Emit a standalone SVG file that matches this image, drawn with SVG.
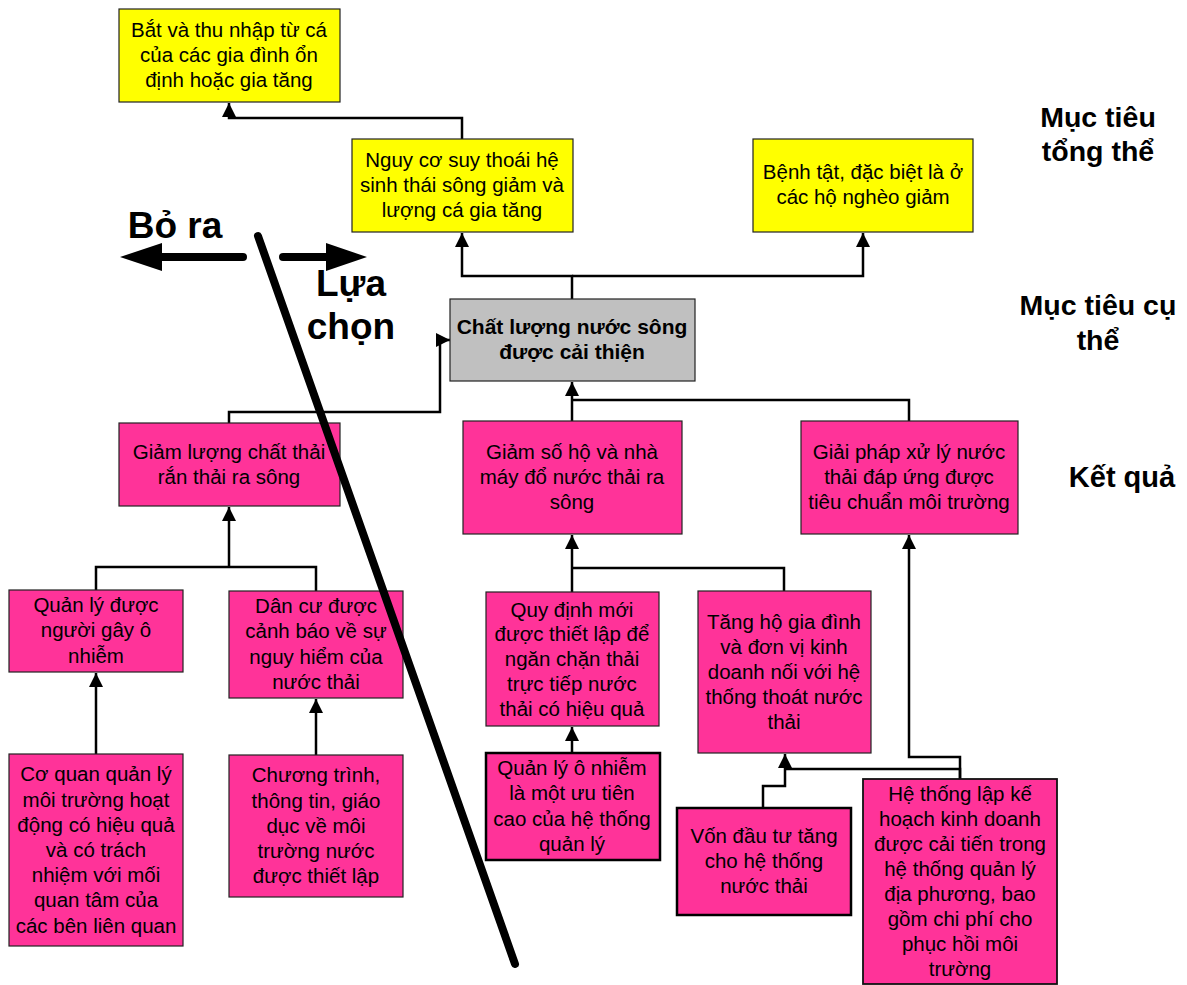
<svg xmlns="http://www.w3.org/2000/svg" width="1187" height="985" viewBox="0 0 1187 985">
  <defs>
    <marker id="head" markerUnits="userSpaceOnUse" markerWidth="14" markerHeight="14" refX="14" refY="7" orient="auto">
      <path d="M0,0 L14,7 L0,14 z" fill="#000"/>
    </marker>
    <style>
      .box { stroke: #222; stroke-width: 1.2; }
      .thick { stroke: #000; stroke-width: 2.5; }
      .goal { fill: #FFFF00; }
      .purpose { fill: #C0C0C0; }
      .out { fill: #FF3399; }
      .t { font-family: "Liberation Sans", Arial, sans-serif; font-size: 20.5px; fill: #000; text-anchor: middle; }
      .tb { font-family: "Liberation Sans", Arial, sans-serif; font-size: 21px; font-weight: bold; fill: #000; text-anchor: middle; }
      .lvl { font-family: "Liberation Sans", Arial, sans-serif; font-size: 28.5px; font-weight: bold; fill: #000; text-anchor: middle; }
      .big { font-family: "Liberation Sans", Arial, sans-serif; font-size: 37px; font-weight: bold; fill: #000; text-anchor: middle; }
      .conn { fill: none; stroke: #000; stroke-width: 2.5; }
      .arr { marker-end: url(#head); }
    </style>
  </defs>

  <rect width="1187" height="985" fill="#fff"/>

  <!-- level labels -->
  <g id="levels">
    <text class="lvl" x="1098" y="127">Mục tiêu</text>
    <text class="lvl" x="1098" y="161">tổng thể</text>
    <text class="lvl" x="1098" y="315">Mục tiêu cụ</text>
    <text class="lvl" x="1098" y="350">thể</text>
    <text class="lvl" x="1122" y="487" style="font-size:29px">Kết quả</text>
  </g>

  <!-- connectors -->
  <g id="connectors">
    <path class="conn arr" d="M462,139 V118 H229 V103"/>
    <path class="conn arr" d="M572,299 V276 H462 V233"/>
    <path class="conn arr" d="M572,276 H863 V233"/>
    <path class="conn arr" d="M572,421 V382"/>
    <path class="conn" d="M572,400 H909 V421"/>
    <path class="conn arr" d="M229,423 V412 H440 V340 H450"/>
    <path class="conn" d="M96,590 V567 H316 V591"/>
    <path class="conn arr" d="M229,567 V507"/>
    <path class="conn arr" d="M96,754 V673"/>
    <path class="conn arr" d="M316,755 V699"/>
    <path class="conn arr" d="M572,592 V535"/>
    <path class="conn" d="M572,568 H784 V591"/>
    <path class="conn arr" d="M572,753 V727"/>
    <path class="conn arr" d="M763,807 V786 H785 V754"/>
    <path class="conn" d="M785,769 H960 V779"/>
    <path class="conn arr" d="M960,779 V757 H909 V535"/>
  </g>

  <g id="goal-income">
    <rect class="box goal" x="119" y="9" width="221" height="93"/>
    <text class="t" x="229" y="37">Bắt và thu nhập từ cá</text>
    <text class="t" x="229" y="62">của các gia đình ổn</text>
    <text class="t" x="229" y="87">định hoặc gia tăng</text>
  </g>

  <g id="goal-ecosystem">
    <rect class="box goal" x="352" y="139" width="221" height="93"/>
    <text class="t" x="462" y="167">Nguy cơ suy thoái hệ</text>
    <text class="t" x="462" y="192">sinh thái sông giảm và</text>
    <text class="t" x="462" y="217">lượng cá gia tăng</text>
  </g>

  <g id="goal-health">
    <rect class="box goal" x="753" y="139" width="220" height="93"/>
    <text class="t" x="863" y="179">Bệnh tật, đặc biệt là ở</text>
    <text class="t" x="863" y="204">các hộ nghèo giảm</text>
  </g>

  <g id="purpose">
    <rect class="box purpose" x="450" y="299" width="245" height="82"/>
    <text class="tb" x="572" y="334">Chất lượng nước sông</text>
    <text class="tb" x="572" y="359">được cải thiện</text>
  </g>

  <g id="out-solid-waste">
    <rect class="box out" x="119" y="423" width="221" height="83"/>
    <text class="t" x="229" y="459">Giảm lượng chất thải</text>
    <text class="t" x="229" y="484">rắn thải ra sông</text>
  </g>

  <g id="out-discharge">
    <rect class="box out" x="463" y="421" width="219" height="113"/>
    <text class="t" x="572" y="459">Giảm số hộ và nhà</text>
    <text class="t" x="572" y="484">máy đổ nước thải ra</text>
    <text class="t" x="572" y="509">sông</text>
  </g>

  <g id="out-treatment">
    <rect class="box out" x="801" y="421" width="217" height="113"/>
    <text class="t" x="909" y="459">Giải pháp xử lý nước</text>
    <text class="t" x="909" y="484">thải đáp ứng được</text>
    <text class="t" x="909" y="509">tiêu chuẩn môi trường</text>
  </g>

  <g id="act-polluters">
    <rect class="box out" x="9" y="590" width="174" height="82"/>
    <text class="t" x="96" y="612">Quản lý được</text>
    <text class="t" x="96" y="637">người gây ô</text>
    <text class="t" x="96" y="663">nhiễm</text>
  </g>

  <g id="act-warned">
    <rect class="box out" x="229" y="591" width="174" height="107"/>
    <text class="t" x="316" y="613">Dân cư được</text>
    <text class="t" x="316" y="638">cảnh báo về sự</text>
    <text class="t" x="316" y="664">nguy hiểm của</text>
    <text class="t" x="316" y="689">nước thải</text>
  </g>

  <g id="act-agency">
    <rect class="box out" x="9" y="754" width="174" height="192"/>
    <text class="t" x="96" y="781">Cơ quan quản lý</text>
    <text class="t" x="96" y="807">môi trường hoạt</text>
    <text class="t" x="96" y="832">động có hiệu quả</text>
    <text class="t" x="96" y="857">và có trách</text>
    <text class="t" x="96" y="882">nhiệm với mối</text>
    <text class="t" x="96" y="907">quan tâm của</text>
    <text class="t" x="96" y="933">các bên liên quan</text>
  </g>

  <g id="act-education">
    <rect class="box out" x="229" y="755" width="174" height="142"/>
    <text class="t" x="316" y="782">Chương trình,</text>
    <text class="t" x="316" y="808">thông tin, giáo</text>
    <text class="t" x="316" y="833">dục về môi</text>
    <text class="t" x="316" y="858">trường nước</text>
    <text class="t" x="316" y="883">được thiết lập</text>
  </g>

  <g id="act-regulation">
    <rect class="box out" x="486" y="592" width="173" height="134"/>
    <text class="t" x="572" y="617">Quy định mới</text>
    <text class="t" x="572" y="641">được thiết lập để</text>
    <text class="t" x="572" y="666">ngăn chặn thải</text>
    <text class="t" x="572" y="691">trực tiếp nước</text>
    <text class="t" x="572" y="716">thải có hiệu quả</text>
  </g>

  <g id="act-priority">
    <rect class="out thick" x="486" y="753" width="174" height="107"/>
    <text class="t" x="572" y="775">Quản lý ô nhiễm</text>
    <text class="t" x="572" y="800">là một ưu tiên</text>
    <text class="t" x="572" y="826">cao của hệ thống</text>
    <text class="t" x="572" y="851">quản lý</text>
  </g>

  <g id="act-connections">
    <rect class="box out" x="698" y="591" width="173" height="162"/>
    <text class="t" x="784" y="629">Tăng hộ gia đình</text>
    <text class="t" x="784" y="654">và đơn vị kinh</text>
    <text class="t" x="784" y="679">doanh nối với hệ</text>
    <text class="t" x="784" y="704">thống thoát nước</text>
    <text class="t" x="784" y="729">thải</text>
  </g>

  <g id="act-investment">
    <rect class="out thick" x="677" y="808" width="174" height="107"/>
    <text class="t" x="764" y="843">Vốn đầu tư tăng</text>
    <text class="t" x="764" y="868">cho hệ thống</text>
    <text class="t" x="764" y="893">nước thải</text>
  </g>

  <g id="act-planning">
    <rect class="out" x="863" y="779" width="194" height="205" stroke="#111" stroke-width="1.8"/>
    <text class="t" x="960" y="801">Hệ thống lập kế</text>
    <text class="t" x="960" y="826">hoạch kinh doanh</text>
    <text class="t" x="960" y="851">được cải tiến trong</text>
    <text class="t" x="960" y="876">hệ thống quản lý</text>
    <text class="t" x="960" y="901">địa phương, bao</text>
    <text class="t" x="960" y="926">gồm chi phí cho</text>
    <text class="t" x="960" y="951">phục hồi môi</text>
    <text class="t" x="960" y="976">trường</text>
  </g>

  <!-- selection divider: drop on the left, keep on the right -->
  <g id="selection">
    <line x1="258" y1="236" x2="515" y2="964" stroke="#000" stroke-width="8" stroke-linecap="round"/>
    <line x1="243" y1="257" x2="155" y2="257" stroke="#000" stroke-width="8" stroke-linecap="round"/>
    <path d="M120,257 L162,243 L162,271 z" fill="#000"/>
    <line x1="283" y1="257" x2="332" y2="257" stroke="#000" stroke-width="8" stroke-linecap="round"/>
    <path d="M367,257 L326,243 L326,271 z" fill="#000"/>
    <text class="big" x="175" y="238">Bỏ ra</text>
    <text class="big" x="351" y="296">Lựa</text>
    <text class="big" x="351" y="339">chọn</text>
  </g>
</svg>
